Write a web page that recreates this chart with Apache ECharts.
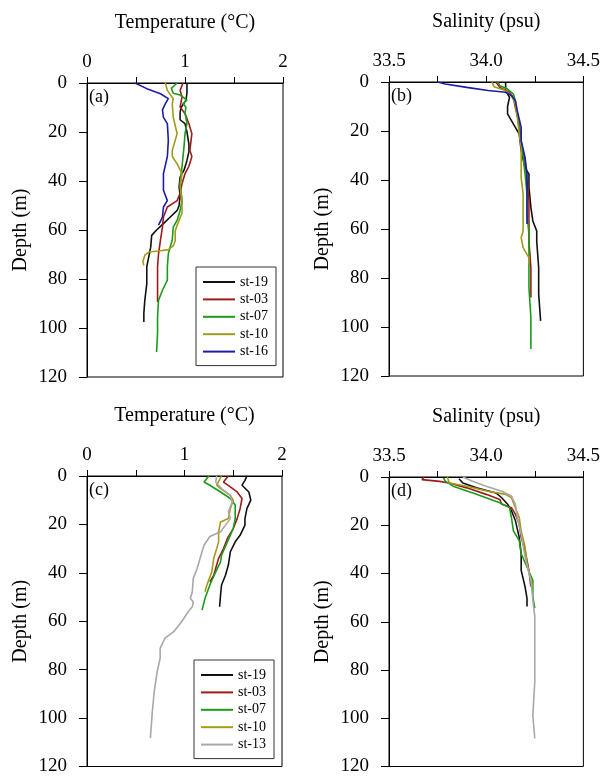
<!DOCTYPE html>
<html>
<head>
<meta charset="utf-8">
<script src="https://cdn.jsdelivr.net/npm/echarts@6/dist/echarts.min.js"></script>
<style>
  html, body { margin: 0; padding: 0; background: #fff; }
  #chart { width: 603px; height: 776px; }
</style>
</head>
<body>
<div id="chart"></div>
<script>
// profiles as [value, depth] pairs
// (a) temperature, first group
const tempA19 = [[1.02,0],[1.02,4],[1.01,7],[0.96,10],[0.95,12],[0.95,15],[1.0,16.6],[1.02,20],[1.04,25],[1.04,28],[1.02,31.6],[0.99,35.6],[0.95,38.4],[0.94,42.4],[0.95,46],[0.94,50],[0.92,52],[0.85,54.7],[0.78,57.4],[0.71,60],[0.66,62.2],[0.65,67],[0.63,71],[0.61,75],[0.61,82],[0.59,88.7],[0.58,94],[0.58,97.5]];
const tempA03 = [[0.98,0],[0.95,3],[0.97,5.7],[0.95,9.8],[1.0,12.5],[1.04,16.6],[1.07,20.7],[1.06,24],[1.05,27.5],[1.07,30],[1.04,34],[1.0,37],[0.97,41],[0.95,45],[0.92,48],[0.82,50.6],[0.78,54.7],[0.77,58.8],[0.75,64],[0.73,69.7],[0.72,75],[0.72,82],[0.72,89.4]];
const tempA07 = [[0.92,0],[0.86,2.2],[0.88,4.2],[0.95,4.9],[1.02,7],[0.98,8.3],[1.01,10],[1.0,12],[1.02,16.6],[1.0,20.7],[0.99,26],[0.97,34],[0.95,41],[0.97,48],[0.95,52],[0.92,56],[0.88,58.8],[0.87,64],[0.83,69.7],[0.82,75],[0.82,80.5],[0.77,84.6],[0.73,88.7],[0.72,95.5],[0.72,102],[0.71,109.8]];
const tempA10 = [[0.80,0],[0.82,3],[0.88,6.4],[0.87,8.4],[0.88,14],[0.92,20.7],[0.90,23.4],[0.87,27.5],[0.87,30],[0.92,33],[0.97,37],[0.95,42.4],[0.97,48],[0.97,53],[0.92,58],[0.90,60.4],[0.90,64.5],[0.88,66.5],[0.83,68],[0.73,68.6],[0.63,69],[0.59,70.3],[0.57,73],[0.58,74.4]];
const tempA16 = [[0.49,0],[0.61,2.3],[0.75,4.4],[0.83,6.4],[0.80,8.4],[0.77,11],[0.78,14],[0.82,16.6],[0.83,23.4],[0.82,30],[0.78,37],[0.78,43.8],[0.82,48],[0.78,50.6],[0.77,54.7],[0.73,58]];

// (b) salinity, first group
const salB19 = [[34.10,0],[34.10,3.5],[34.12,6.3],[34.11,10],[34.11,13],[34.13,15.8],[34.15,18.5],[34.17,21.3],[34.18,28],[34.20,35],[34.22,37.6],[34.22,43],[34.23,51.2],[34.24,56.7],[34.26,60.8],[34.26,65],[34.27,75.7],[34.27,86.6],[34.28,97.5]];
const salB03 = [[34.05,0],[34.07,2.2],[34.12,4.2],[34.14,6.3],[34.15,10.4],[34.17,17],[34.18,25],[34.20,32],[34.21,40],[34.22,48.5],[34.22,56.7],[34.22,65],[34.23,75.7],[34.23,88]];
const salB07 = [[34.06,0],[34.07,1.5],[34.11,2.9],[34.14,4.9],[34.15,7.6],[34.16,13],[34.17,18.5],[34.18,24],[34.19,30.8],[34.20,37.6],[34.21,45.8],[34.21,54],[34.22,62],[34.22,73],[34.22,84],[34.23,96],[34.23,109]];
const salB10 = [[34.03,0],[34.04,1.9],[34.10,3.5],[34.13,5.6],[34.15,9],[34.16,14.4],[34.17,21.3],[34.18,26.7],[34.18,32],[34.18,39],[34.19,45.8],[34.19,51],[34.19,56.7],[34.19,60.8],[34.18,63.5],[34.19,67.6],[34.20,69],[34.22,71.7],[34.22,74.4]];
const salB16 = [[33.75,0],[33.79,0.8],[33.90,2.2],[34.01,3.5],[34.10,4.2],[34.13,5.6],[34.15,7.6],[34.16,11.7],[34.18,18.5],[34.18,24],[34.20,30.8],[34.21,37.6],[34.21,44.4],[34.21,51.2],[34.21,58]];

// (c) temperature, second group
const tempC19 = [[1.64,0],[1.62,1.8],[1.59,3.8],[1.66,6.6],[1.68,10],[1.64,13.5],[1.62,17.6],[1.62,20.3],[1.57,24.5],[1.52,27.2],[1.47,31.3],[1.45,36.8],[1.42,41],[1.38,45],[1.37,49],[1.36,54]];
const tempC03 = [[1.45,0],[1.40,2.5],[1.47,4.5],[1.54,6.6],[1.59,9.3],[1.57,13.5],[1.54,17.6],[1.50,21.7],[1.44,25.8],[1.40,30],[1.35,34],[1.33,36.8],[1.30,41],[1.26,43.7]];
const tempC07 = [[1.25,0],[1.20,2.5],[1.26,3.8],[1.37,6.6],[1.47,9.3],[1.52,12],[1.52,17.6],[1.50,21.7],[1.44,27.2],[1.38,32.7],[1.37,35.5],[1.32,39.6],[1.26,45],[1.21,50.6],[1.18,55.4]];
const tempC10 = [[1.38,0],[1.33,3.8],[1.37,5.2],[1.47,8],[1.50,10],[1.47,13.5],[1.45,17.6],[1.37,19],[1.35,23],[1.35,27.2],[1.33,30],[1.30,34],[1.28,39.6],[1.23,45],[1.21,47.8]];
const tempC13 = [[1.33,0],[1.32,2.5],[1.38,5.2],[1.47,8],[1.49,10.7],[1.45,14.8],[1.47,17.6],[1.42,20.3],[1.37,23],[1.26,25],[1.20,28.6],[1.16,34],[1.13,38.2],[1.09,42.3],[1.08,47.8],[1.06,50.6],[1.09,52],[1.08,54],[1.04,56],[0.97,60.2],[0.89,64.3],[0.80,67],[0.75,71.2],[0.75,75.3],[0.72,80.8],[0.69,89],[0.67,97.3],[0.65,108.3]];

// (d) salinity, second group
const salD19 = [[33.86,0.7],[33.88,2.5],[33.95,4.5],[34.05,6.6],[34.08,8.6],[34.11,11.3],[34.13,14],[34.15,18],[34.17,25],[34.18,31.8],[34.18,38.7],[34.20,45.5],[34.21,50.3],[34.21,53.7]];
const salD03 = [[33.68,0],[33.67,1.1],[33.76,1.8],[33.81,2.5],[33.90,4.5],[34.0,7.2],[34.07,9.3],[34.08,11.3],[34.13,12.7],[34.15,15.4],[34.17,19.5],[34.18,25],[34.20,30.5],[34.22,38.7],[34.23,45.5]];
const salD07 = [[33.78,0.4],[33.79,1.8],[33.83,3.8],[33.95,7.2],[34.07,10.7],[34.12,12.7],[34.13,16.8],[34.14,22.3],[34.17,26.4],[34.18,31.8],[34.21,37.3],[34.24,42.8],[34.24,49.6],[34.25,54.4]];
const salD10 = [[33.80,0],[33.81,2.5],[33.90,3.8],[34.01,5.9],[34.10,7.2],[34.13,8.6],[34.15,12.7],[34.17,16.8],[34.18,22.3],[34.20,29],[34.21,36],[34.23,42.8],[34.24,45.5]];
const salD13 = [[33.88,0],[33.93,1.8],[34.0,3.8],[34.08,5.9],[34.13,7.9],[34.15,11.3],[34.16,16.8],[34.18,23.6],[34.20,33.2],[34.23,42.8],[34.24,51],[34.25,57.8],[34.25,64.6],[34.25,71.5],[34.25,85],[34.24,98.8],[34.25,108.4]];

const stationsTop = ['st-19', 'st-03', 'st-07', 'st-10', 'st-16'];
const stationsBottom = ['st-19', 'st-03', 'st-07', 'st-10', 'st-13'];
const panelLabels = ['(a)', '(b)', '(c)', '(d)'];
// [min, max, tick interval, label step]
const tempTicks = [0, 2, 0.5, 1];
const salTicks = [33.5, 34.5, 0.25, 0.5];
const depthTicks = [0, 120, 20];

const colors = {
  'st-19': '#111111',
  'st-03': '#9e1b1b',
  'st-07': '#1c9a1c',
  'st-10': '#a39a1a',
  'st-16': '#1d1da3',
  'st-13': '#a8a8a8'
};

const FONT = 'Liberation Serif';

const grids = [
  { left: 87, top: 83, width: 196, height: 294 },
  { left: 389, top: 82, width: 196, height: 294 },
  { left: 87, top: 476, width: 195, height: 291 },
  { left: 389, top: 477, width: 196, height: 293 }
];

const makeXAxis = (idx, ticks, name, decimals) => ({
  gridIndex: idx,
  type: 'value',
  position: 'top',
  min: ticks[0],
  max: ticks[1],
  interval: ticks[2],
  name: name,
  nameLocation: 'middle',
  nameGap: 50,
  nameTextStyle: { fontFamily: FONT, fontSize: 20, color: '#000' },
  axisLine: { show: true, lineStyle: { color: '#000', width: 1 } },
  axisTick: { show: true, inside: false, length: 6, lineStyle: { color: '#000' } },
  axisLabel: {
    margin: 11,
    fontFamily: FONT,
    fontSize: 19,
    color: '#000',
    formatter: (v) => {
      const k = Math.round(v / ticks[3]);
      if (Math.abs(v - k * ticks[3]) > 1e-6) return '';
      return v.toFixed(decimals);
    }
  },
  splitLine: { show: false }
});

const makeYAxis = (idx) => ({
  gridIndex: idx,
  type: 'value',
  inverse: true,
  min: depthTicks[0],
  max: depthTicks[1],
  interval: depthTicks[2],
  name: 'Depth (m)',
  nameLocation: 'middle',
  nameGap: 56,
  nameTextStyle: { fontFamily: FONT, fontSize: 20, color: '#000' },
  axisLine: { show: true, lineStyle: { color: '#000', width: 1 } },
  axisTick: { show: true, inside: false, length: 8, lineStyle: { color: '#000' } },
  axisLabel: { margin: 20, fontFamily: FONT, fontSize: 19, color: '#000' },
  splitLine: { show: false }
});

const makeSeries = (name, data, idx) => ({
  name: name,
  type: 'line',
  xAxisIndex: idx,
  yAxisIndex: idx,
  data: data,
  showSymbol: false,
  symbol: 'none',
  silent: true,
  animation: false,
  lineStyle: { color: colors[name], width: 1.6 },
  itemStyle: { color: colors[name] }
});

const panels = [
  [tempA19, tempA03, tempA07, tempA10, tempA16],
  [salB19, salB03, salB07, salB10, salB16],
  [tempC19, tempC03, tempC07, tempC10, tempC13],
  [salD19, salD03, salD07, salD10, salD13]
];

const series = [];
panels.forEach((profiles, idx) => {
  const names = idx < 2 ? stationsTop : stationsBottom;
  profiles.forEach((d, i) => series.push(makeSeries(names[i], d, idx)));
});

const makeLegend = (names, left, top) => ({
  data: names,
  orient: 'vertical',
  left: left,
  top: top,
  icon: 'rect',
  itemWidth: 32,
  itemHeight: 2,
  itemGap: 3.4,
  padding: [8, 8, 7, 7],
  borderColor: '#333',
  borderWidth: 1,
  backgroundColor: '#fff',
  selectedMode: false,
  textStyle: { fontFamily: FONT, fontSize: 14, color: '#000', lineHeight: 14 }
});

const chart = echarts.init(document.getElementById('chart'), null, { renderer: 'canvas' });

const option = {
  backgroundColor: '#fff',
  animation: false,
  grid: grids.map(g => Object.assign({ show: true, borderColor: '#000', borderWidth: 1, backgroundColor: 'transparent' }, g)),
  xAxis: [
    makeXAxis(0, tempTicks, 'Temperature (\u00B0C)', 0),
    makeXAxis(1, salTicks, 'Salinity (psu)', 1),
    makeXAxis(2, tempTicks, 'Temperature (\u00B0C)', 0),
    makeXAxis(3, salTicks, 'Salinity (psu)', 1)
  ],
  yAxis: [makeYAxis(0), makeYAxis(1), makeYAxis(2), makeYAxis(3)],
  legend: [
    makeLegend(stationsTop, 196, 267),
    makeLegend(stationsBottom, 194, 660)
  ],
  graphic: panelLabels.map((t, i) => ({
    type: 'text',
    left: grids[i].left + 2,
    top: grids[i].top + 5,
    style: { text: t, font: '18px "' + FONT + '"', fill: '#000' }
  })),
  series: series
};

chart.setOption(option);
</script>
</body>
</html>
